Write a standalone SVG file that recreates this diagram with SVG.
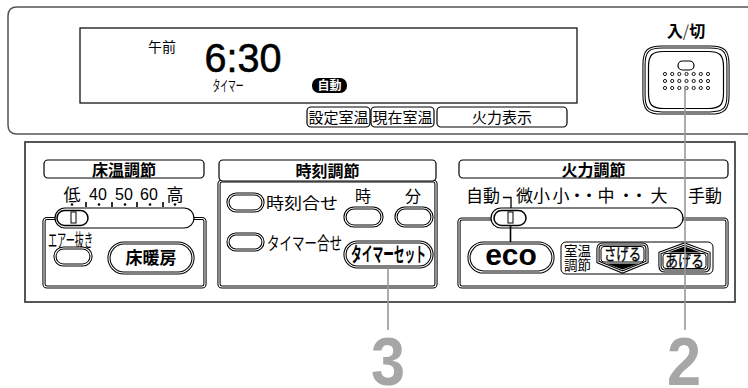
<svg xmlns="http://www.w3.org/2000/svg" width="748" height="388" viewBox="0 0 748 388">
<style>
.jp{font-family:"Noto Sans CJK JP","Noto Sans",sans-serif;fill:#000}
.la{font-family:"Liberation Sans",Arial,sans-serif;fill:#000}
.b{font-weight:bold}
.ln{fill:none;stroke:#000;stroke-width:1.2}
.bo{fill:#fff;stroke:#000;stroke-width:3.2}
.bi{fill:none;stroke:#fff;stroke-width:1.1}
.lead{stroke:#999;stroke-width:1.6;fill:none}
.num{font-family:"Liberation Sans",Arial,sans-serif;font-weight:bold;font-size:68px;fill:#a6a6a6}
</style>
<rect width="748" height="388" fill="#fff"/>

<g id="top-panel">
<path d="M748,7 H17 Q8,7 8,16 V125 Q8,134 17,134 H748" fill="none" stroke="#555" stroke-width="1.5"/>
</g>

<g id="lcd">
<rect x="80" y="28" width="497" height="75" class="ln"/>
<text x="162" y="52" class="jp" font-size="14" text-anchor="middle">午前</text>
<text x="243" y="72" class="la" font-size="41" text-anchor="middle" textLength="77" lengthAdjust="spacingAndGlyphs" stroke="#000" stroke-width="0.6">6:30</text>
<text x="228" y="91" class="jp" font-size="15" text-anchor="middle" textLength="31" lengthAdjust="spacingAndGlyphs">タイマー</text>
<rect x="312" y="78" width="35" height="15" rx="7" fill="#000"/>
<text x="329.5" y="90" class="jp b" font-size="12" text-anchor="middle" style="fill:#fff">自動</text>
</g>

<g id="btn-settei">
<rect x="307" y="107" width="63" height="20" rx="4" class="ln"/>
<text x="338.5" y="122.5" class="jp" font-size="15" text-anchor="middle" textLength="60" lengthAdjust="spacingAndGlyphs">設定室温</text>
</g>
<g id="btn-genzai">
<rect x="371" y="107" width="63" height="20" rx="4" class="ln"/>
<text x="402.5" y="122.5" class="jp" font-size="15" text-anchor="middle" textLength="60" lengthAdjust="spacingAndGlyphs">現在室温</text>
</g>
<g id="btn-karyoku-hyoji">
<rect x="437" y="107" width="130" height="20" rx="4" class="ln"/>
<text x="502" y="122.5" class="jp" font-size="15" text-anchor="middle">火力表示</text>
</g>

<g id="power">
<text x="686" y="37" class="jp b" font-size="16" text-anchor="middle">入<tspan font-weight="normal" style="fill:#444">/</tspan>切</text>
<path d="M662,47 H710 C724,47 728,51 728,65 V95 C728,109 724,113 710,113 H662 C648,113 644,109 644,95 V65 C644,51 648,47 662,47 Z" class="bo"/>
<path d="M662,47 H710 C724,47 728,51 728,65 V95 C728,109 724,113 710,113 H662 C648,113 644,109 644,95 V65 C644,51 648,47 662,47 Z" class="bi"/>
<path d="M664,51.5 H708 C720,51.5 723.5,55 723.5,67 V93 C723.5,105 720,108.5 708,108.5 H664 C652,108.5 648.5,105 648.5,93 V67 C648.5,55 652,51.5 664,51.5 Z" class="ln"/>
<rect x="678" y="61" width="16" height="9" rx="4.5" class="ln"/>
<g fill="#fff" stroke="#000" stroke-width="0.9">
<circle cx="665" cy="74" r="1.6"/><circle cx="672.2" cy="74" r="1.6"/><circle cx="679.3" cy="74" r="1.6"/><circle cx="686.5" cy="74" r="1.6"/><circle cx="693.7" cy="74" r="1.6"/><circle cx="700.8" cy="74" r="1.6"/><circle cx="708" cy="74" r="1.6"/>
<circle cx="665" cy="81" r="1.6"/><circle cx="672.2" cy="81" r="1.6"/><circle cx="679.3" cy="81" r="1.6"/><circle cx="686.5" cy="81" r="1.6"/><circle cx="693.7" cy="81" r="1.6"/><circle cx="700.8" cy="81" r="1.6"/><circle cx="708" cy="81" r="1.6"/>
<circle cx="665" cy="88" r="1.6"/><circle cx="672.2" cy="88" r="1.6"/><circle cx="679.3" cy="88" r="1.6"/><circle cx="686.5" cy="88" r="1.6"/><circle cx="693.7" cy="88" r="1.6"/><circle cx="700.8" cy="88" r="1.6"/><circle cx="708" cy="88" r="1.6"/>
</g>
</g>

<g id="bottom-panel">
<rect x="25" y="142" width="710" height="160" fill="none" stroke="#444" stroke-width="1.8"/>
</g>

<g id="floor-section">
<rect x="44" y="160" width="160" height="18" rx="4" class="ln"/>
<text x="124" y="176" class="jp b" font-size="16" text-anchor="middle">床温調節</text>
<text x="72" y="201" class="jp" font-size="17" text-anchor="middle">低</text>
<text x="98" y="200" class="la" font-size="16" text-anchor="middle">40</text>
<text x="124" y="200" class="la" font-size="16" text-anchor="middle">50</text>
<text x="149" y="200" class="la" font-size="16" text-anchor="middle">60</text>
<text x="175" y="201" class="jp" font-size="17" text-anchor="middle">高</text>
<g fill="#000"><circle cx="72" cy="204.5" r="1.3"/><circle cx="99" cy="204.5" r="1.3"/><circle cx="125" cy="204.5" r="1.3"/><circle cx="150" cy="204.5" r="1.3"/><circle cx="175" cy="204.5" r="1.3"/></g>
<path d="M86,202 V207 M112,202 V207 M137,202 V207 M163,202 V207" stroke="#000" stroke-width="1.6"/>
<rect x="44" y="218.5" width="161" height="68.5" rx="3" class="bo"/>
<rect x="44" y="218.5" width="161" height="68.5" rx="3" class="bi"/>
<rect x="55" y="208" width="139" height="20" rx="10" fill="#fff" stroke="#000" stroke-width="1.2"/>
<rect x="57" y="210.5" width="31" height="15" rx="7.5" fill="#fff" stroke="#000" stroke-width="1.5"/>
<rect x="71" y="212" width="5" height="11" fill="#fff" stroke="#000" stroke-width="1"/>
<text x="48" y="247" class="jp" font-size="18" textLength="45" lengthAdjust="spacingAndGlyphs">エアー抜き</text>
<rect x="55" y="248" width="36" height="17" rx="8.5" class="bo"/>
<rect x="55" y="248" width="36" height="17" rx="8.5" class="bi"/>
<rect x="109" y="243" width="84" height="30" rx="15" class="bo"/>
<rect x="109" y="243" width="84" height="30" rx="15" class="bi"/>
<text x="151" y="264" class="jp b" font-size="17" text-anchor="middle">床暖房</text>
</g>

<g id="clock-section">
<rect x="219" y="181" width="217" height="106" rx="3" class="bo"/>
<rect x="219" y="181" width="217" height="106" rx="3" class="bi"/>
<rect x="219" y="160" width="217" height="21" rx="4" fill="#fff" stroke="#000" stroke-width="1.2"/>
<text x="327.5" y="177" class="jp b" font-size="16" text-anchor="middle">時刻調節</text>
<rect x="228" y="194" width="35" height="17" rx="8.5" class="bo"/>
<rect x="228" y="194" width="35" height="17" rx="8.5" class="bi"/>
<text x="266" y="209" class="jp" font-size="16" textLength="72" lengthAdjust="spacingAndGlyphs">時刻合せ</text>
<rect x="228" y="234" width="35" height="16" rx="8" class="bo"/>
<rect x="228" y="234" width="35" height="16" rx="8" class="bi"/>
<text x="267" y="250" class="jp" font-size="18" textLength="75" lengthAdjust="spacingAndGlyphs">タイマー合せ</text>
<text x="363" y="202" class="jp" font-size="16" text-anchor="middle">時</text>
<text x="413" y="202" class="jp" font-size="16" text-anchor="middle">分</text>
<rect x="345" y="208" width="37" height="18" rx="9" class="bo"/>
<rect x="345" y="208" width="37" height="18" rx="9" class="bi"/>
<rect x="396" y="208" width="36" height="18" rx="9" class="bo"/>
<rect x="396" y="208" width="36" height="18" rx="9" class="bi"/>
<rect x="345" y="242" width="87" height="25" rx="12.5" class="bo"/>
<rect x="345" y="242" width="87" height="25" rx="12.5" class="bi"/>
<text x="388.5" y="261.5" class="jp b" font-size="20" text-anchor="middle" textLength="75" lengthAdjust="spacingAndGlyphs">タイマーセット</text>
</g>

<g id="fire-section">
<rect x="459" y="160" width="269" height="18" rx="4" class="ln"/>
<text x="593.5" y="176" class="jp b" font-size="16" text-anchor="middle">火力調節</text>
<text x="483" y="202" class="jp" font-size="17" text-anchor="middle">自動</text>
<path d="M503,197.5 H511 V210" fill="none" stroke="#000" stroke-width="1.3"/>
<text x="516 533 552.5 568.5 580.5 597.5 617.5 630.5 650.5" y="202" class="jp" font-size="17">微小小・・中・・大</text>
<text x="705" y="202" class="jp" font-size="17" text-anchor="middle">手動</text>
<rect x="459" y="219" width="268" height="68" rx="3" class="bo"/>
<rect x="459" y="219" width="268" height="68" rx="3" class="bi"/>
<rect x="491" y="208" width="192" height="20" rx="10" fill="#fff" stroke="#000" stroke-width="1.2"/>
<rect x="494" y="210.5" width="32" height="15" rx="7.5" fill="#fff" stroke="#000" stroke-width="1.5"/>
<rect x="508" y="212" width="5" height="11" fill="#fff" stroke="#000" stroke-width="1"/>
<path d="M510.5,226 V243" stroke="#000" stroke-width="1.6"/>
<rect x="469" y="243" width="84" height="29" rx="14.5" class="bo"/>
<rect x="469" y="243" width="84" height="29" rx="14.5" class="bi"/>
<text x="511" y="265" class="la b" font-size="30" text-anchor="middle">eco</text>
<rect x="561" y="242" width="152" height="32" rx="5" fill="none" stroke="#000" stroke-width="1"/>
<text x="564" y="255.5" class="jp" font-size="14" textLength="27" lengthAdjust="spacingAndGlyphs">室温</text>
<text x="564" y="270" class="jp" font-size="14" textLength="27" lengthAdjust="spacingAndGlyphs">調節</text>
<g id="btn-sageru">
<path d="M603,244 H642 Q647,244 647,249 V262 L622.5,272 L598,262 V249 Q598,244 603,244 Z" class="bo"/>
<path d="M603,244 H642 Q647,244 647,249 V262 L622.5,272 L598,262 V249 Q598,244 603,244 Z" class="bi"/>
<path d="M606,263.5 H639 L622.5,269.5 Z" fill="#000"/>
<rect x="601" y="246.5" width="43" height="15.5" rx="3" fill="#fff" stroke="#000" stroke-width="1"/>
<text x="622.5" y="259.5" class="jp" font-size="16" text-anchor="middle" textLength="37" lengthAdjust="spacingAndGlyphs" stroke="#000" stroke-width="0.3">さげる</text>
</g>
<g id="btn-ageru">
<path d="M660,253 L684.5,244 L709,253 V266 Q709,271 704,271 H665 Q660,271 660,266 Z" class="bo"/>
<path d="M660,253 L684.5,244 L709,253 V266 Q709,271 704,271 H665 Q660,271 660,266 Z" class="bi"/>
<path d="M668,252.5 L684.5,246.5 L701,252.5 Z" fill="#000"/>
<rect x="663" y="253.5" width="43" height="15" rx="3" fill="#fff" stroke="#000" stroke-width="1"/>
<text x="684.5" y="267" class="jp" font-size="16" text-anchor="middle" textLength="39" lengthAdjust="spacingAndGlyphs" stroke="#000" stroke-width="0.3">あげる</text>
</g>
</g>

<g id="connectors">
<path d="M388,268 V330" class="lead"/>
<path d="M685,86 V330" class="lead"/>
</g>

<g id="label-3"><text class="num" text-anchor="middle" transform="translate(388,385) scale(0.9,1)">3</text></g>
<g id="label-2"><text class="num" text-anchor="middle" transform="translate(684,385) scale(0.9,1)">2</text></g>
</svg>
